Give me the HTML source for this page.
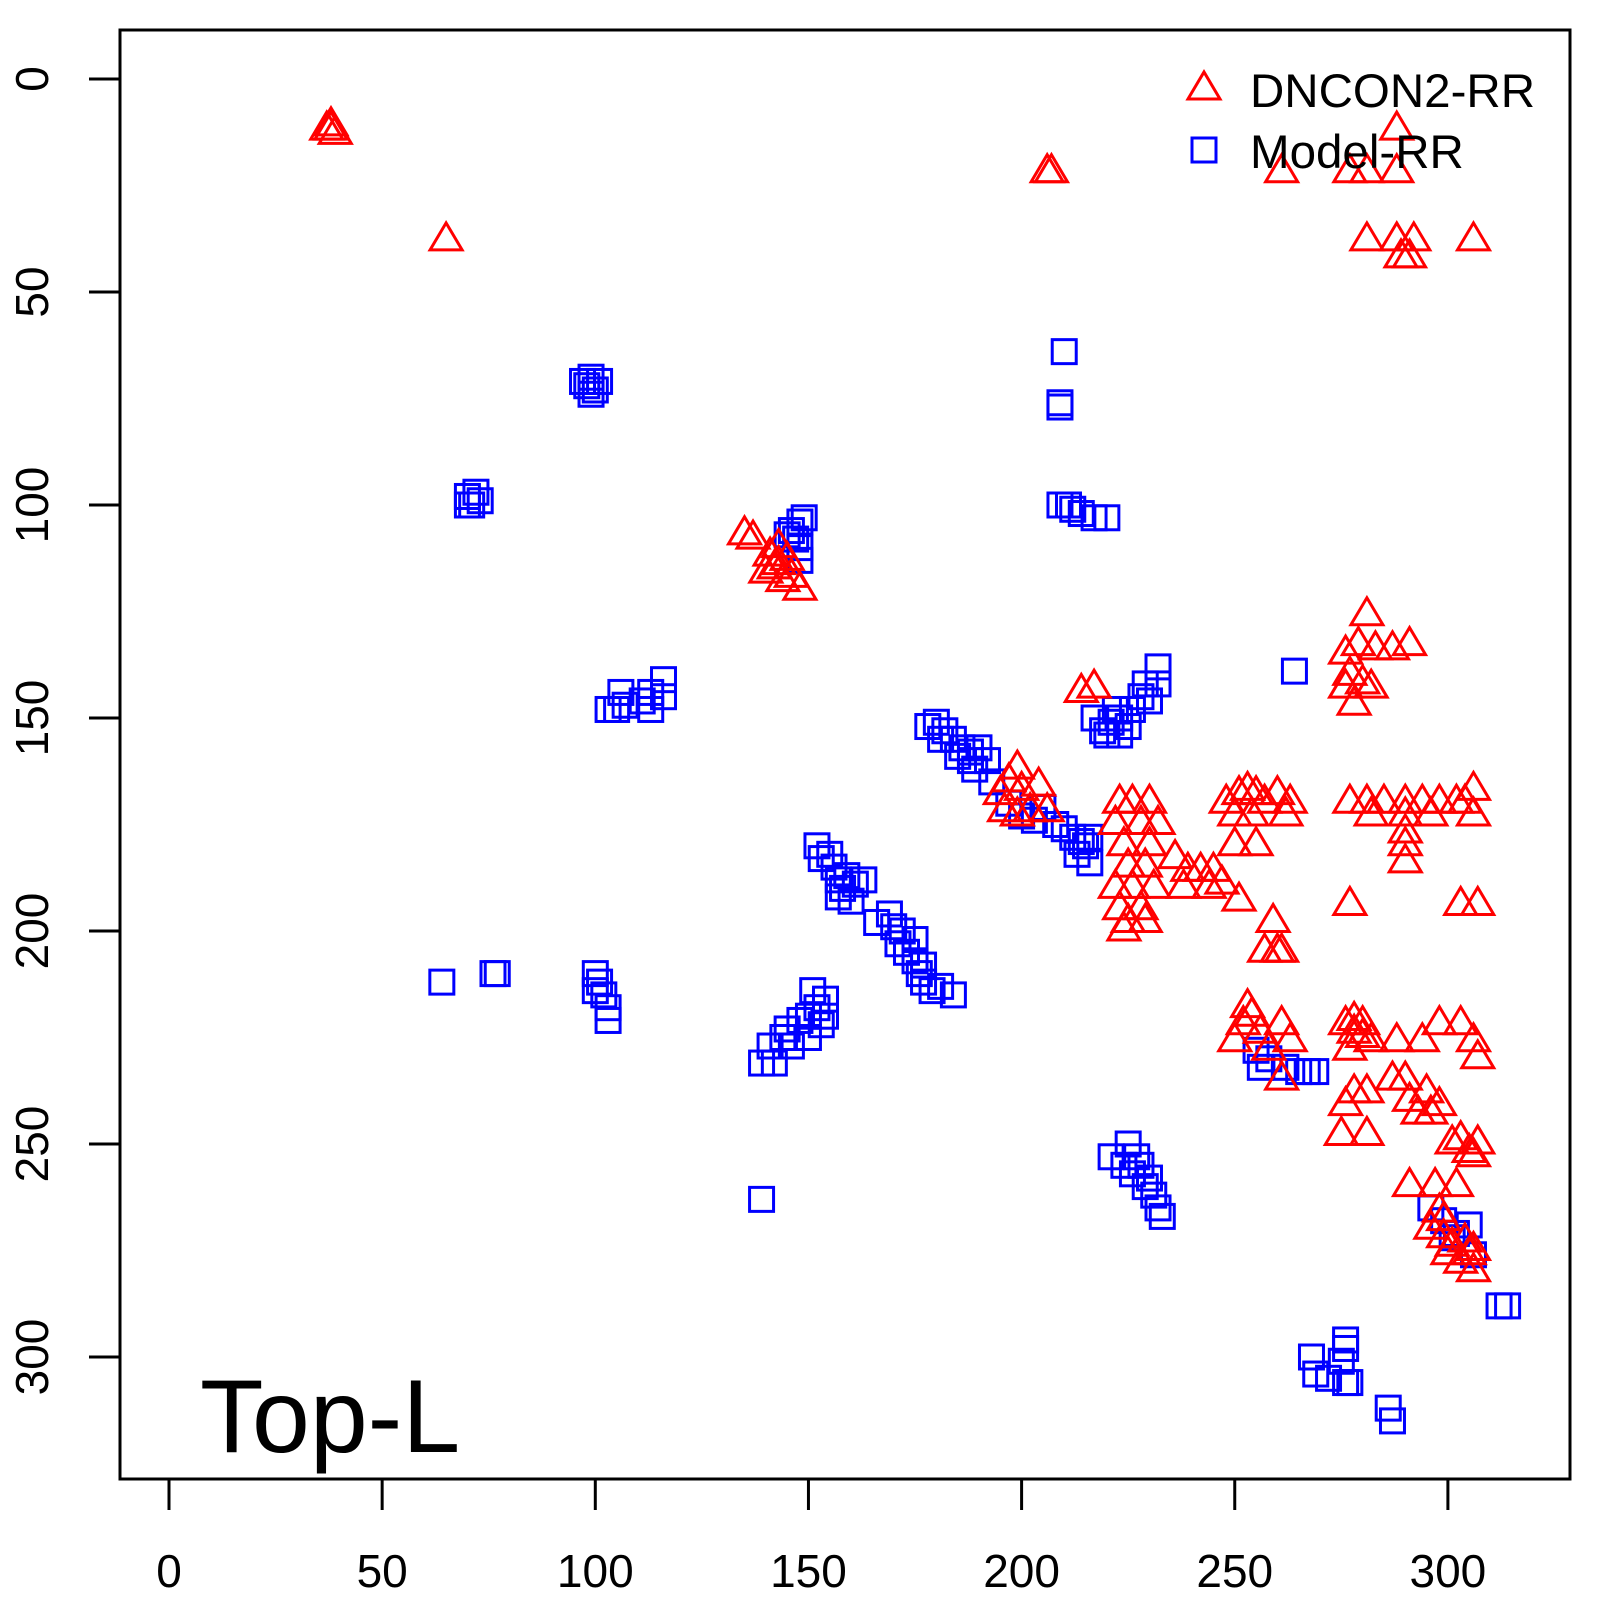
<!DOCTYPE html>
<html><head><meta charset="utf-8"><style>html,body{margin:0;padding:0;background:#fff}svg{display:block}</style></head>
<body>
<svg id="s" xmlns="http://www.w3.org/2000/svg" width="1600" height="1600" viewBox="0 0 1600 1600" font-family="Liberation Sans, sans-serif">
<defs>
<polygon id="t" points="-16,9 16,9 0,-18" fill="none" stroke="#f00" stroke-width="3"/>
<rect id="q" x="-12" y="-12" width="24" height="24" fill="none" stroke="#00f" stroke-width="3"/>
</defs>
<rect x="120" y="30" width="1450" height="1449" fill="none" stroke="#000" stroke-width="3"/>
<g id="ax" stroke="#000" stroke-width="3"></g>
<g id="lab" font-size="46" fill="#000"></g>
<g id="pts"></g>
<use href="#t" x="1204" y="90"/>
<text x="1250" y="107" font-size="47.5">DNCON2-RR</text>
<use href="#q" x="1204" y="150"/>
<text x="1250" y="168" font-size="47.5">Model-RR</text>
<text x="200" y="1452" font-size="104">Top-L</text>
</svg>
<script>
var NS="http://www.w3.org/2000/svg";
function X(x){return 169+x*4.263} function Y(y){return 79+y*4.26}
var ax=document.getElementById('ax'),lab=document.getElementById('lab'),pts=document.getElementById('pts');
function el(p,n,a,txt){var e=document.createElementNS(NS,n);for(var k in a)e.setAttribute(k,a[k]);if(txt!=null)e.textContent=txt;p.appendChild(e);return e}
for(var v=0;v<=300;v+=50){
 el(ax,'line',{x1:X(v),x2:X(v),y1:1479,y2:1510});
 el(lab,'text',{x:X(v),y:1587,'text-anchor':'middle'},v);
 el(ax,'line',{x1:89,x2:120,y1:Y(v),y2:Y(v)});
 el(lab,'text',{x:0,y:0,'text-anchor':'middle',transform:'translate(48,'+Y(v)+') rotate(-90)'},v);
}
var T=[[37,12],[38,11],[39,13],[38,12],[65,38],[206,22],[207,22],[261,22],[277,22],[281,22],[288,22],[288,12],
[281,38],[288,38],[292,38],[306,38],[289,42],[291,42],
[135,107],[137,108],[141,112],[142,115],[143,114],[145,113],[146,117],[148,120],[144,118],[143,110],[140,116],
[281,126],[276,135],[279,133],[283,134],[287,134],[291,133],[277,140],[280,142],[278,147],[282,143],[276,143],
[217,143],[214,144],
[195,168],[197,165],[199,162],[200,167],[196,172],[199,173],[204,166],[202,172],[206,172],
[223,170],[226,170],[230,170],[222,175],[228,175],[232,175],[224,180],[230,180],[225,185],[229,185],[222,190],[226,190],[231,190],[223,195],[228,195],[225,198],[229,198],[224,200],
[236,183],[239,186],[242,186],[245,186],[238,190],[244,190],[247,189],
[248,170],[251,168],[253,167],[255,168],[257,170],[260,168],[263,170],[250,173],[254,173],[262,173],[250,180],[255,180],
[251,193],[259,198],[261,205],[257,205],[260,205],
[277,170],[281,170],[285,170],[290,170],[294,170],[298,170],[302,170],[306,167],[304,170],[282,173],[290,173],[296,173],[306,173],[290,177],[290,180],[290,184],
[277,194],[303,194],[307,194],
[252,222],[253,218],[254,220],[256,224],[250,226],[258,228],[261,222],[263,226],[261,235],
[276,222],[278,224],[280,222],[277,228],[282,226],[278,221],[280,225],[288,226],[294,226],[298,222],[303,222],[306,226],[307,230],
[276,241],[278,238],[281,238],[275,248],[281,248],[287,235],[290,235],[291,240],[293,243],[295,238],[298,241],[296,243],
[301,250],[303,249],[305,252],[307,250],[306,253],
[291,260],[297,260],[302,260],[298,266],[299,272],[301,274],[304,273],[306,275],[306,280],[303,278],[299,268],[300,276],[296,270],[305,276]];
var Q=[[98,72],[99,70],[100,73],[101,71],[97,71],[99,74],[70,98],[71,100],[72,97],[73,99],[70,100],
[210,64],[209,76],[209,77],[209,100],[212,101],[214,102],[217,103],[220,103],[211,100],
[148,104],[149,103],[146,106],[147,108],[148,110],[148,113],[145,107],
[103,148],[105,148],[107,147],[106,144],[111,146],[113,144],[113,148],[116,141],[116,145],[264,139],
[232,138],[232,142],[229,142],[230,146],[228,145],[226,148],[223,150],[221,151],[220,154],[223,154],[219,153],[225,152],[222,148],[217,150],
[178,152],[180,151],[182,153],[184,155],[186,157],[188,158],[190,157],[192,160],[189,162],[181,155],[185,159],[188,160],[193,165],[197,170],[200,173],[203,174],[205,171],[208,175],[210,176],[212,178],[214,179],[215,180],[216,178],[213,182],[216,184],
[152,180],[153,183],[155,182],[156,185],[157,188],[158,190],[159,187],[161,189],[163,188],[160,193],[157,192],[166,198],[169,196],[170,199],[171,203],[172,200],[173,205],[175,207],[176,210],[177,212],[179,214],[181,213],[184,215],[175,202],[177,208],
[64,212],[76,210],[77,210],[100,210],[101,212],[102,215],[103,218],[103,221],[100,214],
[139,231],[142,231],[141,227],[144,225],[145,223],[148,221],[150,220],[151,214],[152,218],[153,222],[154,216],[154,220],[146,227],[150,225],
[139,263],[221,253],[225,250],[224,255],[226,257],[228,255],[230,258],[231,262],[232,265],[233,267],[229,260],[227,253],
[256,232],[258,230],[262,232],[265,233],[267,233],[269,233],[255,228],
[296,265],[299,268],[302,271],[305,269],[306,276],[301,272],[312,288],[314,288],
[276,296],[276,298],[268,300],[269,304],[272,305],[276,306],[277,306],[275,301],[286,312],[287,315]];
Q.forEach(function(p){el(pts,'use',{href:'#q',x:X(p[0]),y:Y(p[1])})});
T.forEach(function(p){el(pts,'use',{href:'#t',x:X(p[0]),y:Y(p[1])})});
</script>
</body></html>
